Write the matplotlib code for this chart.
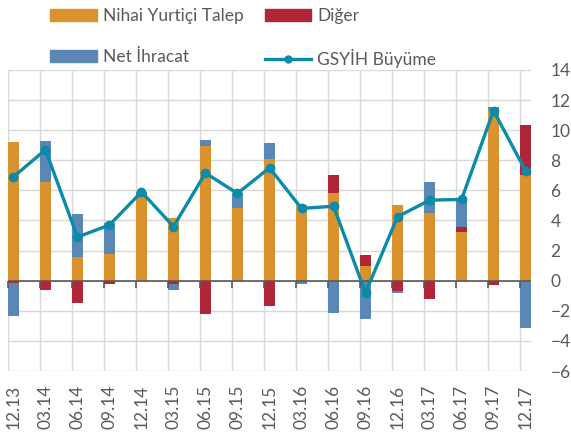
import numpy as np
import matplotlib.pyplot as plt
from matplotlib.lines import Line2D
from matplotlib.patches import Patch

plt.rcParams['font.family'] = ['Lato', 'DejaVu Sans']

donemler = ['12.13', '03.14', '06.14', '09.14', '12.14', '03.15', '06.15', '09.15',
            '12.15', '03.16', '06.16', '09.16', '12.16', '03.17', '06.17', '09.17', '12.17']
nihai = [9.2, 6.55, 1.6, 1.8, 5.55, 4.15, 8.95, 4.8, 8.1, 5.0, 5.8, 1.0, 5.05, 4.5, 3.25, 11.35, 7.0]
diger = [-0.15, -0.65, -1.5, -0.25, 0.15, -0.2, -2.2, 0.0, -1.7, 0.05, 1.25, 0.7, -0.7, -1.2, 0.3, -0.3, 3.35]
net_ihracat = [-2.2, 2.75, 2.8, 2.05, 0.2, -0.4, 0.4, 1.0, 1.05, -0.25, -2.15, -2.55, -0.1, 2.05, 1.85, 0.2, -3.15]
gsyih = [6.9, 8.7, 2.9, 3.7, 5.9, 3.6, 7.15, 5.8, 7.5, 4.8, 4.95, -0.8, 4.25, 5.35, 5.4, 11.3, 7.3]

c_or = '#DA922F'
c_red = '#B02537'
c_blue = '#5B87B4'
c_line = '#0A8BAA'
c_txt = '#595959'

fig = plt.figure(figsize=(5.71, 4.40), dpi=100)
ax = fig.add_axes([8/571, 69/440, 523/571, 301/440])

x = np.arange(len(donemler))
w = 0.34
pos = np.zeros(len(x))
neg = np.zeros(len(x))
for vals, col in [(nihai, c_or), (diger, c_red), (net_ihracat, c_blue)]:
    v = np.array(vals)
    bottom = np.where(v >= 0, pos, neg)
    ax.bar(x, v, w, bottom=bottom, align='edge', color=col, zorder=2)
    pos = pos + np.where(v >= 0, v, 0)
    neg = neg + np.where(v < 0, v, 0)

ax.axhline(0, color='#595959', lw=1.2, zorder=2.5)
ax.plot(x + w/2, gsyih, color=c_line, lw=2.4, marker='o', ms=6, zorder=3)

ax.set_xlim(0, len(x) - 1 + w)
ax.set_ylim(-6, 14)
ax.set_yticks(np.arange(-6, 15, 2))
ax.yaxis.tick_right()
ax.tick_params(axis='y', length=0, pad=14, labelsize=12.5, labelcolor=c_txt)
ax.set_xticks(x)
ax.set_xticklabels([])
ax.set_xticks(x + w/2, minor=True)
ax.set_xticklabels(donemler, minor=True, rotation=90, fontsize=12.5, color=c_txt)
ax.tick_params(axis='x', which='both', length=0)
ax.tick_params(axis='x', which='minor', pad=10)
ax.grid(True, color='#D9D9D9', lw=1, zorder=0)
for s in ax.spines.values():
    s.set_visible(False)

# category axis tick marks at zero
sec = ax.secondary_xaxis(0.3)
sec.set_zorder(5)
sec.set_xticks(x)
sec.set_xticklabels([])
sec.tick_params(length=5, width=1.2, color='#595959')
sec.spines['bottom'].set_visible(False)

handles = [Patch(color=c_or), Patch(color=c_blue), Patch(color=c_red),
           Line2D([], [], color=c_line, lw=2.4, marker='o', ms=5)]
labels = ['Nihai Yurtiçi Talep', 'Net İhracat', 'Diğer', 'GSYİH Büyüme']
fig.legend(handles, labels, loc='upper left', bbox_to_anchor=(50/571, 1 - 8/440),
           ncol=2, frameon=False, fontsize=12.5, labelcolor=c_txt,
           handlelength=2.7, handleheight=0.65, handletextpad=0.35,
           columnspacing=1.2, labelspacing=1.45, borderpad=0, borderaxespad=0)

fig.savefig('out.png', dpi=100)
